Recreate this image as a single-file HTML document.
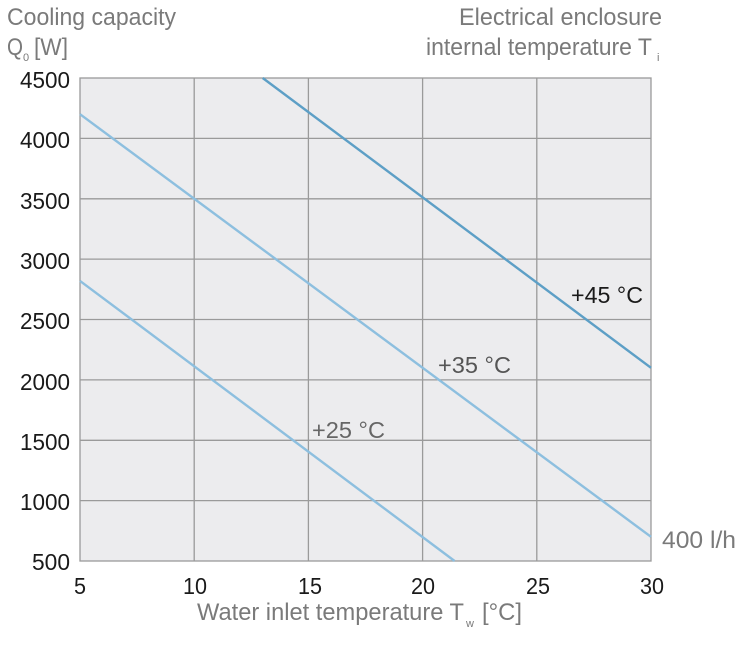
<!DOCTYPE html>
<html><head><meta charset="utf-8"><style>
html,body{margin:0;padding:0;background:#fff;width:743px;height:645px;overflow:hidden}
svg{display:block}
text{font-family:"Liberation Sans",sans-serif}
.g{fill:#7a7a7a}
.t{fill:#1a1a1a;font-size:23px}
</style></head><body>
<svg width="743" height="645" viewBox="0 0 743 645">
<rect x="80" y="78" width="571" height="483" fill="#ececee"/>
<g stroke="#9a9a9a" stroke-width="1.3" fill="none">
<line x1="194.2" y1="78" x2="194.2" y2="561"/>
<line x1="308.4" y1="78" x2="308.4" y2="561"/>
<line x1="422.6" y1="78" x2="422.6" y2="561"/>
<line x1="536.8" y1="78" x2="536.8" y2="561"/>
<line x1="80" y1="138.4" x2="651" y2="138.4"/>
<line x1="80" y1="198.8" x2="651" y2="198.8"/>
<line x1="80" y1="259.1" x2="651" y2="259.1"/>
<line x1="80" y1="319.5" x2="651" y2="319.5"/>
<line x1="80" y1="379.9" x2="651" y2="379.9"/>
<line x1="80" y1="440.3" x2="651" y2="440.3"/>
<line x1="80" y1="500.6" x2="651" y2="500.6"/>
<rect x="80" y="78" width="571" height="483"/>
</g>
<g fill="none" stroke-width="2.4">
<line x1="262.7" y1="78" x2="651" y2="367.8" stroke="#5d9fc6"/>
<line x1="80" y1="114.2" x2="651" y2="536.8" stroke="#8dbfdf"/>
<line x1="80" y1="280.9" x2="454.6" y2="561" stroke="#8dbfdf"/>
</g>
<g class="t" lengthAdjust="spacingAndGlyphs">
<text x="20" y="88" textLength="50" lengthAdjust="spacingAndGlyphs">4500</text>
<text x="20" y="148" textLength="50" lengthAdjust="spacingAndGlyphs">4000</text>
<text x="20" y="209" textLength="50" lengthAdjust="spacingAndGlyphs">3500</text>
<text x="20" y="269" textLength="50" lengthAdjust="spacingAndGlyphs">3000</text>
<text x="20" y="329" textLength="50" lengthAdjust="spacingAndGlyphs">2500</text>
<text x="20" y="390" textLength="50" lengthAdjust="spacingAndGlyphs">2000</text>
<text x="20" y="450" textLength="50" lengthAdjust="spacingAndGlyphs">1500</text>
<text x="20" y="510" textLength="50" lengthAdjust="spacingAndGlyphs">1000</text>
<text x="32" y="570" textLength="38" lengthAdjust="spacingAndGlyphs">500</text>
</g>
<g class="t">
<text x="74" y="594" textLength="12" lengthAdjust="spacingAndGlyphs">5</text>
<text x="183" y="594" textLength="24" lengthAdjust="spacingAndGlyphs">10</text>
<text x="298" y="594" textLength="24" lengthAdjust="spacingAndGlyphs">15</text>
<text x="411" y="594" textLength="24" lengthAdjust="spacingAndGlyphs">20</text>
<text x="526" y="594" textLength="24" lengthAdjust="spacingAndGlyphs">25</text>
<text x="640" y="594" textLength="24" lengthAdjust="spacingAndGlyphs">30</text>
</g>
<g class="g" font-size="24">
<text x="7" y="25" textLength="169" lengthAdjust="spacingAndGlyphs">Cooling capacity</text>
<text x="7" y="55" textLength="16" lengthAdjust="spacingAndGlyphs">Q</text>
<text x="23" y="61" font-size="11">0</text>
<text x="34" y="55" textLength="34" lengthAdjust="spacingAndGlyphs">[W]</text>
<text x="459" y="25" textLength="203" lengthAdjust="spacingAndGlyphs">Electrical enclosure</text>
<text x="426" y="55" textLength="226" lengthAdjust="spacingAndGlyphs">internal temperature T</text>
<text x="657" y="61" font-size="11">i</text>
<text x="197" y="620" textLength="267" lengthAdjust="spacingAndGlyphs">Water inlet temperature T</text>
<text x="466" y="627" font-size="11">w</text>
<text x="482" y="620" textLength="40" lengthAdjust="spacingAndGlyphs">[°C]</text>
<text x="662" y="548" textLength="74" lengthAdjust="spacingAndGlyphs">400 l/h</text>
</g>
<text x="571" y="303" font-size="23" fill="#1a1a1a" textLength="72" lengthAdjust="spacingAndGlyphs">+45 °C</text>
<text x="438" y="373" font-size="23" fill="#555" textLength="73" lengthAdjust="spacingAndGlyphs">+35 °C</text>
<text x="312" y="438" font-size="23" fill="#666" textLength="73" lengthAdjust="spacingAndGlyphs">+25 °C</text>
</svg>
</body></html>
